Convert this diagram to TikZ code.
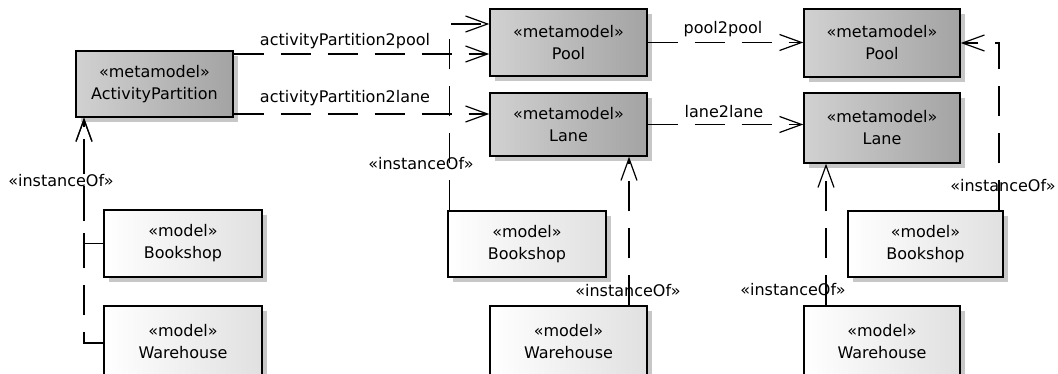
\documentclass[tikz,border=0pt]{standalone}
\usepackage{fontspec}
\setmainfont{DejaVu Sans}
\usetikzlibrary{arrows.meta,shadows,calc}
\begin{document}
\begin{tikzpicture}[x=1pt,y=-1pt,
  box/.style={draw=black, line width=1.4pt, inner sep=0pt, align=center,
    font=\fontsize{16}{22}\selectfont,
    drop shadow={shadow xshift=5pt, shadow yshift=-5pt, fill=black!22, opacity=1}},
  meta/.style={box, left color=black!18, right color=black!36},
  model/.style={box, left color=white, right color=black!12},
  dep/.style={draw=black, line width=1.2pt, dash pattern=on 30pt off 17pt,
    -{Straight Barb[length=22pt,width=16pt,line width=1.2pt]}},
  lbl/.style={font=\fontsize{16}{20}\selectfont, anchor=base, inner sep=0pt}]
\path[use as bounding box] (0,0) rectangle (1058,374);
\fill[white] (0,0) rectangle (1058,374);
\clip (0,0) rectangle (1058,374);

% metamodel boxes
\node[meta, minimum width=157pt, minimum height=66pt] (ap) at (154.5,84) {«metamodel»\\ActivityPartition};
\node[meta, minimum width=157pt, minimum height=67pt] (poolM) at (568.5,42.5) {«metamodel»\\Pool};
\node[meta, minimum width=157pt, minimum height=63pt] (laneM) at (568.5,124.5) {«metamodel»\\Lane};
\node[meta, minimum width=156pt, minimum height=68pt] (poolR) at (882,43) {«metamodel»\\Pool};
\node[meta, minimum width=156pt, minimum height=70pt] (laneR) at (882,128) {«metamodel»\\Lane};

% model boxes
\node[model, minimum width=158pt, minimum height=67pt] (bookL) at (183,243.5) {«model»\\Bookshop};
\node[model, minimum width=158pt, minimum height=72pt] (wareL) at (183,342) {«model»\\Warehouse};
\node[model, minimum width=158pt, minimum height=66pt] (bookM) at (527,244) {«model»\\Bookshop};
\node[model, minimum width=157pt, minimum height=72pt] (wareM) at (568.5,342) {«model»\\Warehouse};
\node[model, minimum width=155pt, minimum height=66pt] (bookR) at (925.5,244) {«model»\\Bookshop};
\node[model, minimum width=156pt, minimum height=72pt] (wareR) at (882,342) {«model»\\Warehouse};

% transformations
\draw[dep] ([yshift=30pt]ap.east) -- ([yshift=-11.5pt]poolM.west);
\draw[dep] ([yshift=-30pt]ap.east) -- ([yshift=10.5pt]laneM.west);
\draw[dep] (poolM.east) -- (poolM.east -| poolR.west);
\draw[dep] (laneM.east) -- (laneM.east -| laneR.west);

% instanceOf
\draw[dep] (bookL.west) -| ([xshift=-70.5pt]ap.south);
\draw[dep] ([yshift=-1pt]wareL.west) -| ([xshift=-70.5pt]ap.south);
\draw[dep] ([xshift=2pt]bookM.north west) |- ([yshift=18.5pt]poolM.west);
\draw[dep] ([xshift=60.5pt]wareM.north) -- ([xshift=60.5pt]laneM.south);
\draw[dep] ([xshift=-56pt]wareR.north) -- ([xshift=-56pt]laneR.south);
\draw[dep] ([xshift=73.5pt]bookR.north) |- (poolR.east);

% labels
\node[lbl] (t1) at (345,46) {activityPartition2pool};
\node[lbl] (t2) at (345,103) {activityPartition2lane};
\node[lbl] (t3) at (723,34) {pool2pool};
\node[lbl] (t4) at (724,118) {lane2lane};
\node[lbl] (i1) at (61,187) {«instanceOf»};
\node[lbl] (i2) at (421,170) {«instanceOf»};
\node[lbl] (i3) at (628,297) {«instanceOf»};
\node[lbl] (i4) at (793,295) {«instanceOf»};
\node[lbl] (i5) at (1003,192) {«instanceOf»};
\end{tikzpicture}
\end{document}
